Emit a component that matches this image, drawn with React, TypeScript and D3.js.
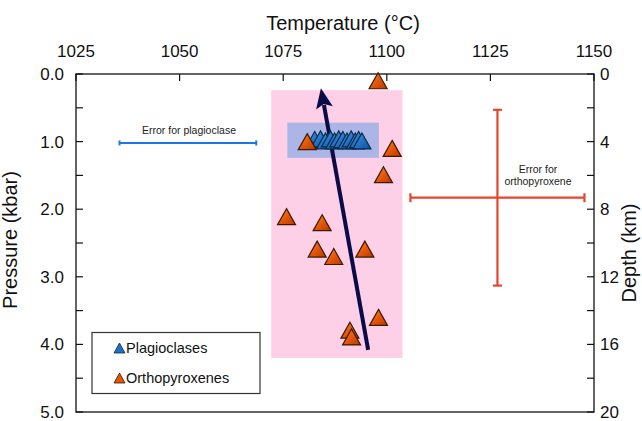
import React from "react";
import * as d3 from "d3";

// Axis ticks
const tempTicks = [1025, 1050, 1075, 1100, 1125, 1150];
const pressureTicks = [0, 1, 2, 3, 4, 5];
const pressureMinor = [0.5, 1.5, 2.5, 3.5, 4.5];
const depthTicks = [0, 4, 8, 12, 16, 20];
const depthMinor = [2, 6, 10, 14, 18];

// Orthopyroxene estimates: temperature (°C), pressure (kbar)
const opxTemp = [1097.9, 1099.2, 1075.8, 1084.4, 1083.2, 1087.2, 1094.7, 1098.0, 1091.1, 1091.5, 1101.3];
const opxPres = [0.1, 1.49, 2.11, 2.2, 2.59, 2.7, 2.59, 3.6, 3.79, 3.89, 1.1];

// Plagioclase estimates
const plagTemp = [1082.6, 1084.0, 1085.2, 1086.4, 1087.4, 1088.4, 1089.4, 1090.4, 1091.4, 1092.4, 1093.2, 1094.0];
const plagPres = [0.97, 0.96, 0.99, 0.96, 0.99, 0.96, 0.97, 0.99, 0.96, 0.99, 0.97, 0.99];

// Orthopyroxene lying at the front of the plagioclase cluster
const opxClusterTemp = [1080.8];
const opxClusterPres = [1.0];

// Shaded ranges [tMin, tMax, pMin, pMax]
const opxRange = [1072.1, 1103.8, 0.24, 4.2];
const plagRange = [1076.0, 1098.1, 0.72, 1.24];

// Ascent path: tail then tip
const pathTemp = [1095.5, 1084.1];
const pathPres = [4.08, 0.21];

// Error bars: centre T, ±T, centre P, ±P
const plagError = [1052, 16.5, 1.02, 0];
const opxError = [1126.7, 21, 1.83, 1.3];

const W = 642;
const H = 421;
const FONT = "'Liberation Sans', Arial, Helvetica, sans-serif";

const x = d3.scaleLinear().domain([1025, 1150]).range([76, 594]);
const y = d3.scaleLinear().domain([0, 5]).range([74, 412]);
const yDepth = d3.scaleLinear().domain([0, 20]).range([74, 412]);

function tri(cx: number, cy: number, w: number, h: number) {
  return `M${cx},${cy - h / 2}L${cx + w / 2},${cy + h / 2}L${cx - w / 2},${cy + h / 2}Z`;
}

function Marker({ t, p, kind }: { t: number; p: number; kind: "opx" | "plag" }) {
  const cx = x(t);
  const cy = y(p);
  return (
    <path
      d={tri(cx, cy, 18, 16)}
      fill={kind === "opx" ? "url(#gOpx)" : "url(#gPlag)"}
      stroke={kind === "opx" ? "#3a1a00" : "#0a2a4a"}
      strokeWidth={1.2}
      strokeLinejoin="miter"
    />
  );
}

export default function App() {
  const x0 = pathTemp[0], y0 = pathPres[0];
  const x1 = pathTemp[1], y1 = pathPres[1];
  const ax = x(x0), ay = y(y0), bx = x(x1), by = y(y1);
  const ang = Math.atan2(by - ay, bx - ax);
  const headLen = 20;
  const headW = 8.5;
  const ux = Math.cos(ang), uy = Math.sin(ang);
  const px = -uy, py = ux;
  const baseX = bx - ux * headLen, baseY = by - uy * headLen;
  const notchX = bx - ux * (headLen - 4), notchY = by - uy * (headLen - 4);
  const head = `M${bx},${by}L${baseX + px * headW},${baseY + py * headW}L${notchX},${notchY}L${baseX - px * headW},${baseY - py * headW}Z`;

  const tickLen = 7;

  return (
    <svg
      width={W}
      height={H}
      style={{ position: "absolute", left: 0, top: 0, background: "#fff" }}
      fontFamily={FONT}
    >
      <defs>
        <linearGradient id="gOpx" x1="0" y1="0" x2="1" y2="1">
          <stop offset="0" stopColor="#ff8a2a" />
          <stop offset="0.55" stopColor="#e25408" />
          <stop offset="1" stopColor="#b53a00" />
        </linearGradient>
        <linearGradient id="gPlag" x1="0" y1="0" x2="1" y2="1">
          <stop offset="0" stopColor="#4aa0e8" />
          <stop offset="0.55" stopColor="#1f6fc2" />
          <stop offset="1" stopColor="#12509a" />
        </linearGradient>
      </defs>

      {/* shaded ranges */}
      <rect
        x={x(opxRange[0])}
        y={y(opxRange[2])}
        width={x(opxRange[1]) - x(opxRange[0])}
        height={y(opxRange[3]) - y(opxRange[2])}
        fill="#fdd0e7"
      />
      <rect
        x={x(plagRange[0])}
        y={y(plagRange[2])}
        width={x(plagRange[1]) - x(plagRange[0])}
        height={y(plagRange[3]) - y(plagRange[2])}
        fill="#abb6e6"
      />

      {/* frame */}
      <rect x={76} y={74} width={518} height={338} fill="none" stroke="#111" strokeWidth={1.3} />

      {/* top axis */}
      {tempTicks.map((t) => (
        <g key={"t" + t}>
          <line x1={x(t)} x2={x(t)} y1={74} y2={74 + tickLen} stroke="#111" strokeWidth={1.2} />
          <text x={x(t)} y={57} textAnchor="middle" fontSize={17} fill="#111">
            {t}
          </text>
        </g>
      ))}
      <text x={343} y={30} textAnchor="middle" fontSize={20} fill="#111">
        Temperature (°C)
      </text>

      {/* left axis */}
      {pressureTicks.concat(pressureMinor).map((p) => (
        <line key={"p" + p} x1={76} x2={76 + tickLen} y1={y(p)} y2={y(p)} stroke="#111" strokeWidth={1.2} />
      ))}
      {pressureTicks.map((p) => (
        <text key={"pl" + p} x={64} y={y(p) + 6} textAnchor="end" fontSize={17} fill="#111">
          {d3.format(".1f")(p)}
        </text>
      ))}
      <text
        transform={`translate(17,${240}) rotate(-90)`}
        textAnchor="middle"
        fontSize={20}
        fill="#111"
      >
        Pressure (kbar)
      </text>

      {/* right axis */}
      {depthTicks.concat(depthMinor).map((d) => (
        <line key={"d" + d} x1={594 - tickLen} x2={594} y1={yDepth(d)} y2={yDepth(d)} stroke="#111" strokeWidth={1.2} />
      ))}
      {depthTicks.map((d) => (
        <text key={"dl" + d} x={600} y={yDepth(d) + 6} textAnchor="start" fontSize={17} fill="#111">
          {d}
        </text>
      ))}
      <text
        transform={`translate(636,${253}) rotate(-90)`}
        textAnchor="middle"
        fontSize={20}
        fill="#111"
      >
        Depth (km)
      </text>

      {/* error bars */}
      <g stroke="#1a78e6" strokeWidth={2}>
        <line x1={x(plagError[0] - plagError[1])} x2={x(plagError[0] + plagError[1])} y1={y(plagError[2])} y2={y(plagError[2])} />
        <line x1={x(plagError[0] - plagError[1])} x2={x(plagError[0] - plagError[1])} y1={y(plagError[2]) - 2.5} y2={y(plagError[2]) + 2.5} />
        <line x1={x(plagError[0] + plagError[1])} x2={x(plagError[0] + plagError[1])} y1={y(plagError[2]) - 2.5} y2={y(plagError[2]) + 2.5} />
      </g>
      <text x={189} y={134} textAnchor="middle" fontSize={10.5} fill="#222">
        Error for plagioclase
      </text>

      <g stroke="#e8432c" strokeWidth={2.2}>
        <line x1={x(opxError[0] - opxError[1])} x2={x(opxError[0] + opxError[1])} y1={y(opxError[2])} y2={y(opxError[2])} />
        <line x1={x(opxError[0] - opxError[1])} x2={x(opxError[0] - opxError[1])} y1={y(opxError[2]) - 4.5} y2={y(opxError[2]) + 4.5} />
        <line x1={x(opxError[0] + opxError[1])} x2={x(opxError[0] + opxError[1])} y1={y(opxError[2]) - 4.5} y2={y(opxError[2]) + 4.5} />
        <line x1={x(opxError[0])} x2={x(opxError[0])} y1={y(opxError[2] - opxError[3])} y2={y(opxError[2] + opxError[3])} />
        <line x1={x(opxError[0]) - 4.5} x2={x(opxError[0]) + 4.5} y1={y(opxError[2] - opxError[3])} y2={y(opxError[2] - opxError[3])} />
        <line x1={x(opxError[0]) - 4.5} x2={x(opxError[0]) + 4.5} y1={y(opxError[2] + opxError[3])} y2={y(opxError[2] + opxError[3])} />
      </g>
      <text x={538} y={172.5} textAnchor="middle" fontSize={10.5} fill="#222">
        Error for
      </text>
      <text x={538} y={185} textAnchor="middle" fontSize={10.5} fill="#222">
        orthopyroxene
      </text>

      {/* orthopyroxene markers */}
      {opxTemp.map((t, i) => (
        <Marker key={"o" + i} t={t} p={opxPres[i]} kind="opx" />
      ))}

      {/* ascent path */}
      <line x1={ax} y1={ay} x2={baseX + ux * 3} y2={baseY + uy * 3} stroke="#0b0b48" strokeWidth={4} />
      <path d={head} fill="#0b0b48" />

      {/* plagioclase cluster */}
      {plagTemp.map((t, i) => (
        <Marker key={"pg" + i} t={t} p={plagPres[i]} kind="plag" />
      ))}
      {opxClusterTemp.map((t, i) => (
        <Marker key={"oc" + i} t={t} p={opxClusterPres[i]} kind="opx" />
      ))}

      {/* legend */}
      <rect x={92} y={332.5} width={168} height={61} fill="#fff" stroke="#333" strokeWidth={1.2} />
      <path d={tri(119.5, 348, 11, 10)} fill="#1f6fc2" stroke="#0a2a4a" strokeWidth={0.8} />
      <text x={126} y={353} fontSize={14.5} fill="#111">
        Plagioclases
      </text>
      <path d={tri(119.5, 378, 11, 10)} fill="#e25408" stroke="#3a1a00" strokeWidth={0.8} />
      <text x={126} y={383} fontSize={14.5} fill="#111">
        Orthopyroxenes
      </text>
    </svg>
  );
}
